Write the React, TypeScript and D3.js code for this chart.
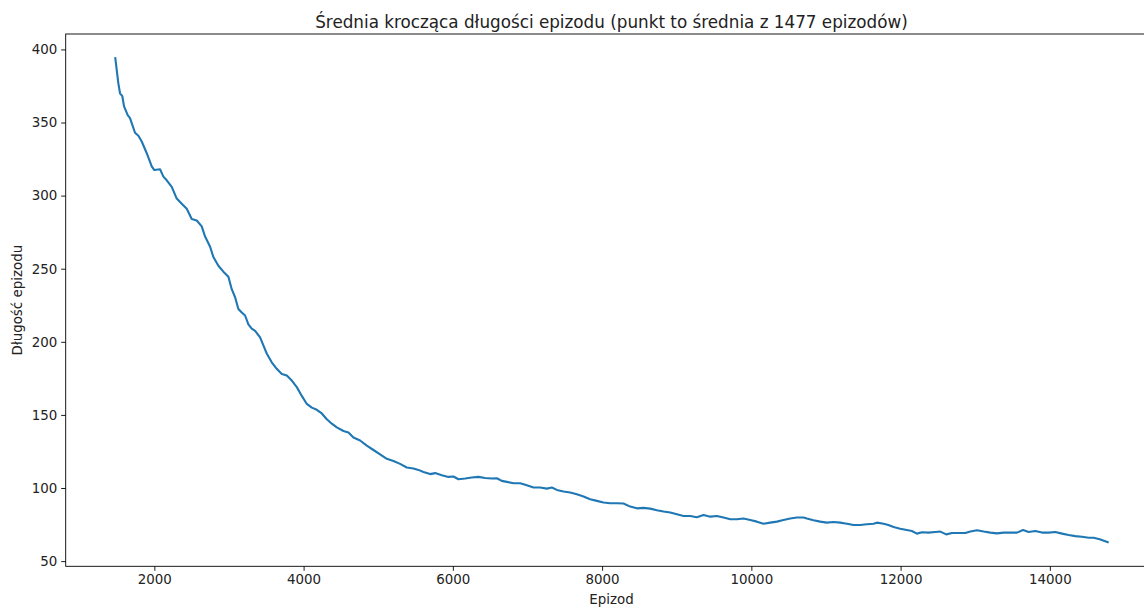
import * as d3 from "d3";
import { useEffect, useRef } from "react";

// episode index at which each rolling-mean point ends
const episodes = [
  1477, 1517, 1540, 1571, 1594, 1643, 1674, 1741, 1786, 1831, 1898, 1965, 2000, 2076, 2121, 2166,
  2233, 2300, 2367, 2434, 2501, 2568, 2635, 2680, 2747, 2791, 2858, 2925, 2992, 3037, 3082, 3126,
  3171, 3216, 3260, 3305, 3350, 3417, 3461, 3506, 3573, 3640, 3708, 3775, 3842, 3909, 3976, 4043,
  4110, 4177, 4244, 4311, 4378, 4445, 4534, 4601, 4668, 4757, 4847, 4936, 5025, 5115, 5204, 5293,
  5383, 5472, 5539, 5606, 5696, 5763, 5852, 5941, 6008, 6075, 6165, 6254, 6343, 6432, 6522, 6589,
  6656, 6724, 6813, 6902, 6992, 7081, 7170, 7260, 7327, 7394, 7483, 7572, 7662, 7751, 7840, 7930,
  8019, 8108, 8198, 8287, 8376, 8466, 8555, 8644, 8734, 8823, 8913, 9002, 9091, 9181, 9270, 9359,
  9449, 9538, 9627, 9717, 9806, 9895, 9985, 10074, 10163, 10253, 10342, 10431, 10521, 10610, 10700,
  10744, 10833, 10923, 11012, 11101, 11190, 11281, 11370, 11459, 11548, 11638, 11683, 11772, 11836,
  11906, 11994, 12083, 12151, 12219, 12286, 12374, 12465, 12532, 12612, 12689, 12778, 12868, 12935,
  13024, 13113, 13203, 13292, 13381, 13471, 13560, 13641, 13716, 13805, 13895, 13984, 14073, 14163,
  14252, 14341, 14431, 14520, 14587, 14668, 14775,
];

// rolling mean of episode length
const lengths = [
  394, 377, 370, 368, 361, 355, 353, 343, 341, 337, 329, 320, 317.5, 318, 313, 310.5,
  306, 298, 294.5, 291, 284, 283, 279, 272, 265, 258, 252, 248, 244.5, 236, 230.5, 222.5,
  220, 218, 212, 209, 207.5, 203, 197.5, 192, 186, 181.5, 178, 177, 173.5, 169, 163, 157.5,
  155, 153.5, 151, 147, 144, 141.5, 139, 138, 134.5, 132.5, 129, 126, 123, 120, 118.5, 116.5,
  114, 113.4, 112.4, 111, 109.5, 110.2, 108.8, 107.6, 107.9, 106, 106.5, 107.2, 107.6, 106.9, 106.5, 106.7,
  104.9, 104.2, 103.3, 103.3, 101.9, 100.3, 100.3, 99.6, 100.3, 98.7, 97.6, 96.9, 95.7, 94.2, 92.3, 91.2,
  90.1, 89.6, 89.6, 89.4, 87.3, 86.1, 86.4, 85.9, 84.8, 83.9, 83.2, 82, 80.9, 80.9, 80, 81.5,
  80.4, 80.9, 79.8, 78.6, 78.6, 79.1, 78.1, 77, 75.6, 76.3, 77, 78.1, 79.1, 79.8, 79.8,
  79.1, 77.9, 77, 76.3, 76.7, 76.3, 75.6, 74.7, 74.7, 75.2, 75.6, 76.3, 75.6, 74.7,
  73.3, 72.2, 71.3, 70.6, 68.8, 69.7, 69.5, 69.9, 70.2, 68.3, 69.2, 69.2, 69.2, 70.2,
  71.1, 70.2, 69.5, 69, 69.5, 69.5, 69.5, 71.3, 69.9, 70.6, 69.5, 69.5, 69.9, 68.8,
  67.8, 67.1, 66.7, 66, 66, 64.9, 63,
];

const xTicks = [2000, 4000, 6000, 8000, 10000, 12000, 14000];
const yTicks = [50, 100, 150, 200, 250, 300, 350, 400];

const title = "Średnia krocząca długości epizodu (punkt to średnia z 1477 epizodów)";
const xLabel = "Epizod";
const yLabel = "Długość epizodu";

const FONT = "DejaVu Sans, sans-serif";
const TICK_SIZE = "13.4px";

function styleAxis(g) {
  g.select(".domain").remove();
  g.selectAll(".tick line").attr("stroke", "#000").attr("stroke-width", 0.9);
  g.selectAll(".tick text")
    .attr("fill", "#222")
    .style("font-family", FONT)
    .style("font-size", TICK_SIZE);
}

function AxisBottom({ scale, transform }) {
  const ref = useRef(null);
  useEffect(() => {
    if (ref.current) {
      const axis = d3.axisBottom(scale).tickValues(xTicks).tickFormat(d3.format("d"))
        .tickSize(4.5).tickPadding(4).tickSizeOuter(0);
      const g = d3.select(ref.current).call(axis);
      styleAxis(g);
    }
  }, [ref, scale]);
  return <g ref={ref} transform={transform} />;
}

function AxisLeft({ scale, transform }) {
  const ref = useRef(null);
  useEffect(() => {
    if (ref.current) {
      const axis = d3.axisLeft(scale).tickValues(yTicks).tickFormat(d3.format("d"))
        .tickSize(4.5).tickPadding(4).tickSizeOuter(0);
      const g = d3.select(ref.current).call(axis);
      styleAxis(g);
    }
  }, [ref, scale]);
  return <g ref={ref} transform={transform} />;
}

export default function App() {
  const width = 1144;
  const height = 607;
  const left = 65.7, right = 1157.3, top = 34, bottom = 566.3;

  const points = episodes.map((e, i) => [e, lengths[i]]);

  const [xMin, xMax] = d3.extent(episodes);
  const xPad = (xMax - xMin) * 0.05;
  const [yMin, yMax] = d3.extent(lengths);
  const yPad = (yMax - yMin) * 0.05;

  const scaleX = d3.scaleLinear().domain([xMin - xPad, xMax + xPad]).range([left, right]);
  const scaleY = d3.scaleLinear().domain([yMin - yPad, yMax + yPad]).range([bottom, top]);

  const line = d3.line().x((d) => scaleX(d[0])).y((d) => scaleY(d[1]));

  return (
    <svg
      width={width}
      height={height}
      style={{ position: "absolute", left: 0, top: 0, background: "#fff" }}
    >
      <rect x={0} y={0} width={width} height={height} fill="#fff" />
      <path d={line(points)} fill="none" stroke="#1f77b4" strokeWidth={2.1} strokeLinejoin="round" strokeLinecap="square" />
      <rect
        x={left}
        y={top}
        width={right - left}
        height={bottom - top}
        fill="none"
        stroke="#000"
        strokeWidth={0.9}
      />
      <AxisBottom scale={scaleX} transform={`translate(0, ${bottom})`} />
      <AxisLeft scale={scaleY} transform={`translate(${left}, 0)`} />
      <text
        x={(left + right) / 2}
        y={27.5}
        textAnchor="middle"
        style={{ fontFamily: FONT, fontSize: "16.8px" }}
        fill="#222"
      >
        {title}
      </text>
      <text
        x={(left + right) / 2}
        y={604}
        textAnchor="middle"
        style={{ fontFamily: FONT, fontSize: TICK_SIZE }}
        fill="#222"
      >
        {xLabel}
      </text>
      <text
        transform={`translate(21.5, ${(top + bottom) / 2}) rotate(-90)`}
        textAnchor="middle"
        style={{ fontFamily: FONT, fontSize: TICK_SIZE }}
        fill="#222"
      >
        {yLabel}
      </text>
    </svg>
  );
}
